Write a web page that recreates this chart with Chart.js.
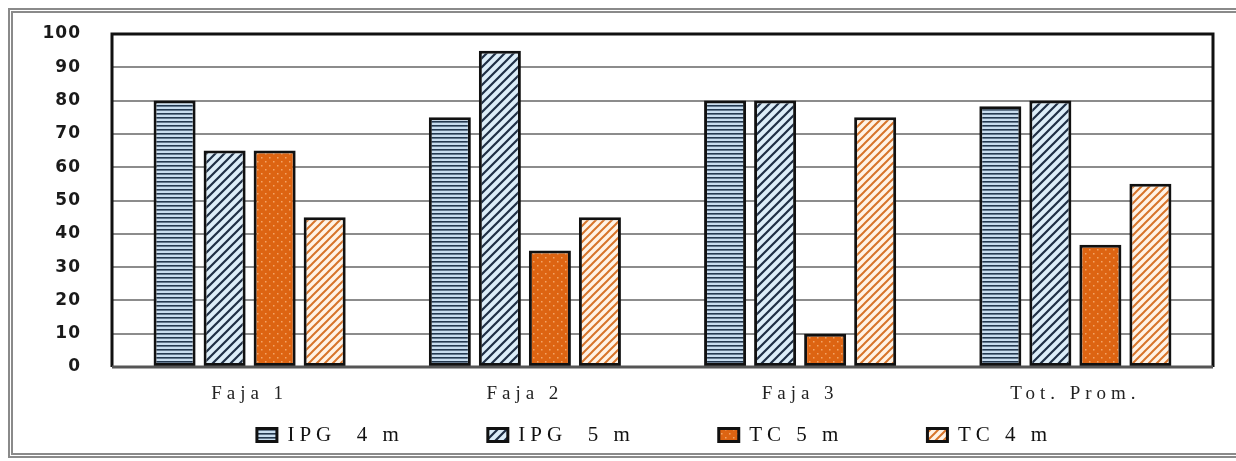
<!DOCTYPE html>
<html lang="es">
<head>
    <meta charset="UTF-8">
    <title>IPG / TC por faja</title>
    <script src="https://cdn.jsdelivr.net/npm/chart.js"></script>
    <style>
        body {
            margin: 0;
            background: #fff;
            overflow: hidden;
        }
        #marco {
            position: absolute;
            left: 8px;
            top: 8px;
            width: 1250px;
            height: 440px;
            border: 5px double #8a8a8a;
        }
        #grafico {
            position: absolute;
            left: 0;
            top: 0;
        }
    </style>
</head>
<body>
    <div id="marco"></div>
    <canvas id="grafico" width="1236" height="461"></canvas>

    <script>
        // datos
        const categorias = ['Faja 1', 'Faja 2', 'Faja 3', 'Tot. Prom.'];
        const series = ['IPG  4 m', 'IPG  5 m', 'TC 5 m', 'TC 4 m'];
        const ipg4m = [80, 75, 80, 78.3];
        const ipg5m = [65, 95, 80, 80];
        const tc5m = [65, 35, 10, 36.7];
        const tc4m = [45, 45, 75, 55];
        const ejeY = { min: 0, max: 100, paso: 10 };

        // tramas de relleno
        function tile(size, fn) {
            const c = document.createElement('canvas');
            c.width = size; c.height = size;
            const g = c.getContext('2d');
            fn(g, size);
            return g.createPattern(c, 'repeat');
        }
        function rayas(fondo, color, size, grosor) {
            return tile(size, (g, s) => {
                g.fillStyle = fondo;
                g.fillRect(0, 0, s, s);
                g.strokeStyle = color;
                g.lineWidth = grosor;
                g.beginPath();
                g.moveTo(0, s); g.lineTo(s, 0);
                g.moveTo(-2, 2); g.lineTo(2, -2);
                g.moveTo(s - 2, s + 2); g.lineTo(s + 2, s - 2);
                g.stroke();
            });
        }
        const tramaIpg4 = tile(4, (g, s) => {
            g.fillStyle = '#c8ddef';
            g.fillRect(0, 0, s, s);
            g.fillStyle = '#23384f';
            g.fillRect(0, 1, s, 1.6);
        });
        const tramaIpg5 = rayas('#dcedf8', '#1f2f45', 9, 2.2);
        const tramaTc5 = tile(8, (g, s) => {
            g.fillStyle = '#dd6412';
            g.fillRect(0, 0, s, s);
            g.fillStyle = '#f3a466';
            g.fillRect(1, 1, 1.5, 1.5);
            g.fillRect(5, 5, 1.5, 1.5);
        });
        const tramaTc4 = rayas('#fff3e6', '#d7742a', 8, 2);
        const tramas = [tramaIpg4, tramaIpg5, tramaTc5, tramaTc4];
        const valores = [ipg4m, ipg5m, tc5m, tc4m];

        // espaciado de letras (el original esta estirado a lo ancho)
        const espaciado = { leyenda: '5px', x: '5px', y: '1px' };
        const corrimiento = { x: 0, y: -9 };
        const letras = {
            id: 'letras',
            beforeLayout(chart) { chart.ctx.letterSpacing = espaciado.leyenda; },
            beforeDraw(chart) { chart.ctx.letterSpacing = espaciado.leyenda; },
            afterUpdate(chart) {
                Object.values(chart.scales).forEach(s => {
                    if (s._conEspacio) return;
                    const orig = s.drawLabels;
                    s.drawLabels = function (area) {
                        const c = this.ctx;
                        const antes = c.letterSpacing;
                        c.save();
                        c.translate(corrimiento[this.id], 0);
                        c.letterSpacing = espaciado[this.id];
                        orig.call(this, area);
                        c.restore();
                        c.letterSpacing = antes;
                    };
                    s._conEspacio = true;
                });
            }
        };

        // la leyenda va mas arriba y a la derecha que su caja por defecto
        const posLeyenda = {
            id: 'posLeyenda',
            afterLayout(chart) {
                const l = chart.legend;
                const dy = 424.5 - (l.top + l.options.labels.padding);
                const dx = 48;
                l.top += dy;
                l.bottom = chart.height;
                l.left += dx; l.right += dx;
            }
        };

        const marcoPlot = {
            id: 'marcoPlot',
            afterDatasetsDraw(chart) {
                const { ctx, chartArea: a } = chart;
                ctx.save();
                ctx.strokeStyle = '#111';
                ctx.lineWidth = 3;
                ctx.beginPath();
                ctx.moveTo(a.left, a.bottom);
                ctx.lineTo(a.left, a.top);
                ctx.lineTo(a.right, a.top);
                ctx.lineTo(a.right, a.bottom);
                ctx.stroke();
                ctx.strokeStyle = '#555';
                ctx.beginPath();
                ctx.moveTo(a.left, a.bottom);
                ctx.lineTo(a.right, a.bottom);
                ctx.stroke();
                ctx.restore();
            }
        };

        const ctx = document.getElementById('grafico').getContext('2d');

        new Chart(ctx, {
            type: 'bar',
            data: {
                labels: categorias,
                datasets: series.map((nombre, i) => ({
                    label: nombre,
                    data: valores[i],
                    backgroundColor: tramas[i],
                    borderColor: '#111',
                    borderWidth: 3,
                    borderSkipped: false,
                    categoryPercentage: 0.727,
                    barPercentage: 0.84
                }))
            },
            options: {
                responsive: false,
                animation: false,
                layout: { padding: { top: 34, right: 23, left: 0, bottom: 0 } },
                scales: {
                    y: {
                        min: ejeY.min,
                        max: ejeY.max,
                        ticks: {
                            stepSize: ejeY.paso,
                            padding: 22,
                            color: '#1a1a1a',
                            font: { family: 'DejaVu Sans', size: 17, weight: 'bold' }
                        },
                        grid: { color: '#8c8c8c', lineWidth: 2, drawTicks: false },
                        border: { display: false },
                        afterFit: s => { s.width = 112; }
                    },
                    x: {
                        ticks: {
                            padding: 8,
                            color: '#222',
                            maxRotation: 0,
                            autoSkip: false,
                            font: { family: 'Liberation Serif', size: 19 }
                        },
                        grid: { display: false },
                        border: { display: false },
                        afterFit: s => { s.height = 40; }
                    }
                },
                plugins: {
                    legend: {
                        position: 'bottom',
                        maxHeight: 54,
                        labels: {
                            boxWidth: 20,
                            boxHeight: 13,
                            padding: 84,
                            color: '#111',
                            font: { family: 'Liberation Serif', size: 21 }
                        }
                    },
                    tooltip: { enabled: false }
                }
            },
            plugins: [letras, posLeyenda, marcoPlot]
        });
    </script>
</body>
</html>
